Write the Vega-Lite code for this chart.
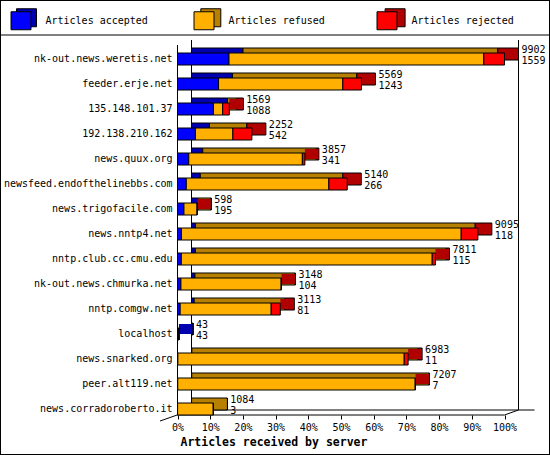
{
  "$schema": "https://vega.github.io/schema/vega-lite/v6.json",
  "width": 550,
  "height": 455,
  "padding": 0,
  "autosize": "none",
  "background": "white",
  "config": {
    "view": {"stroke": "black", "strokeWidth": 2},
    "font": "DejaVu Sans Mono",
    "axis": {"labelFont": "DejaVu Sans Mono", "labelFontSize": 10, "labelColor": "black", "grid": false, "domain": false},
    "legend": {"labelFont": "DejaVu Sans Mono", "labelFontSize": 10, "labelColor": "black"}
  },
  "resolve": {"scale": {"color": "independent"}, "legend": {"color": "independent"}},
  "layer": [
    {
      "data": {"values": [{}]},
      "mark": {"type": "rule", "color": "black", "yOffset": -24},
      "encoding": {"y": {"datum": "nk-out.news.weretis.net", "type": "nominal"}}
    },
    {
      "data": {"values": [{}]},
      "mark": {"type": "rule", "color": "black", "yOffset": -14, "y2Offset": 6},
      "encoding": {
        "x": {"datum": 0, "type": "quantitative"},
        "y": {"datum": "nk-out.news.weretis.net", "type": "nominal"},
        "y2": {"datum": "news.corradoroberto.it"}
      }
    },
    {
      "data": {"values": [{}]},
      "mark": {"type": "rule", "color": "black", "xOffset": 14, "yOffset": -19, "y2Offset": 1},
      "encoding": {
        "x": {"datum": 0, "type": "quantitative"},
        "y": {"datum": "nk-out.news.weretis.net", "type": "nominal"},
        "y2": {"datum": "news.corradoroberto.it"}
      }
    },
    {
      "data": {"values": [{}]},
      "mark": {"type": "rule", "color": "black", "xOffset": 14, "yOffset": -19, "y2Offset": 1},
      "encoding": {
        "x": {"datum": 9902, "type": "quantitative"},
        "y": {"datum": "nk-out.news.weretis.net", "type": "nominal"},
        "y2": {"datum": "news.corradoroberto.it"}
      }
    },
    {
      "data": {"values": [{}]},
      "mark": {"type": "rule", "color": "black", "yOffset": 6},
      "encoding": {
        "x": {"datum": 0, "type": "quantitative"},
        "x2": {"datum": 9902},
        "y": {"datum": "news.corradoroberto.it", "type": "nominal"}
      }
    },
    {
      "data": {"values": [{}]},
      "mark": {"type": "rule", "color": "black", "yOffset": 1, "xOffset": 14, "x2Offset": 30},
      "encoding": {
        "x": {"datum": 0, "type": "quantitative"},
        "x2": {"datum": 9902},
        "y": {"datum": "news.corradoroberto.it", "type": "nominal"}
      }
    },
    {
      "data": {"values": [{}]},
      "mark": {"type": "rule", "color": "black", "yOffset": 6, "y2Offset": 1, "x2Offset": 14},
      "encoding": {
        "x": {"datum": 9902, "type": "quantitative"},
        "x2": {"datum": 9902},
        "y": {"datum": "news.corradoroberto.it", "type": "nominal"},
        "y2": {"datum": "news.corradoroberto.it"}
      }
    },
    {
      "data": {"values": [{}]},
      "mark": {"type": "rule", "color": "black", "xOffset": 14, "yOffset": 1, "x2Offset": -17.5, "y2Offset": 12},
      "encoding": {
        "x": {"datum": 0, "type": "quantitative"},
        "x2": {"datum": 0},
        "y": {"datum": "news.corradoroberto.it", "type": "nominal"},
        "y2": {"datum": "news.corradoroberto.it"}
      }
    },
    {
      "data": {
        "values": [
          {"server": "nk-out.news.weretis.net", "total": 9902, "accepted": 1559, "refused": 7717, "rejected": 626},
          {"server": "feeder.erje.net", "total": 5569, "accepted": 1243, "refused": 3763, "rejected": 563},
          {"server": "135.148.101.37", "total": 1569, "accepted": 1088, "refused": 280, "rejected": 201},
          {"server": "192.138.210.162", "total": 2252, "accepted": 542, "refused": 1134, "rejected": 576},
          {"server": "news.quux.org", "total": 3857, "accepted": 341, "refused": 3440, "rejected": 76},
          {"server": "newsfeed.endofthelinebbs.com", "total": 5140, "accepted": 266, "refused": 4317, "rejected": 557},
          {"server": "news.trigofacile.com", "total": 598, "accepted": 195, "refused": 398, "rejected": 5},
          {"server": "news.nntp4.net", "total": 9095, "accepted": 118, "refused": 8473, "rejected": 504},
          {"server": "nntp.club.cc.cmu.edu", "total": 7811, "accepted": 115, "refused": 7598, "rejected": 98},
          {"server": "nk-out.news.chmurka.net", "total": 3148, "accepted": 104, "refused": 3034, "rejected": 10},
          {"server": "nntp.comgw.net", "total": 3113, "accepted": 81, "refused": 2756, "rejected": 276},
          {"server": "localhost", "total": 43, "accepted": 43, "refused": 0, "rejected": 0},
          {"server": "news.snarked.org", "total": 6983, "accepted": 11, "refused": 6854, "rejected": 118},
          {"server": "peer.alt119.net", "total": 7207, "accepted": 7, "refused": 7190, "rejected": 10},
          {"server": "news.corradoroberto.it", "total": 1084, "accepted": 3, "refused": 1081, "rejected": 0}
        ]
      },
      "transform": [{"fold": ["accepted", "refused", "rejected"], "as": ["type", "count"]}],
      "resolve": {"scale": {"color": "independent"}, "legend": {"color": "independent"}},
      "encoding": {
        "y": {
          "field": "server",
          "type": "nominal",
          "sort": ["nk-out.news.weretis.net", "feeder.erje.net", "135.148.101.37", "192.138.210.162", "news.quux.org", "newsfeed.endofthelinebbs.com", "news.trigofacile.com", "news.nntp4.net", "nntp.club.cc.cmu.edu", "nk-out.news.chmurka.net", "nntp.comgw.net", "localhost", "news.snarked.org", "peer.alt119.net", "news.corradoroberto.it"],
          "scale": {"range": [46.5, 421.5], "paddingInner": 0.52, "paddingOuter": 0.26},
          "axis": {"title": null, "orient": "left", "offset": -177, "ticks": false, "tickSize": 0, "labelPadding": 5}
        }
      },
      "layer": [
        {
          "mark": {"type": "bar", "stroke": "black", "strokeWidth": 1, "xOffset": 14, "x2Offset": 14, "yOffset": -5, "y2Offset": -5},
          "encoding": {
            "x": {"field": "count", "type": "quantitative", "stack": "zero"},
            "order": {"field": "type"},
            "color": {
              "field": "type",
              "type": "nominal",
              "scale": {"domain": ["accepted", "refused", "rejected"], "range": ["#0000B0", "#B88000", "#B00000"]},
              "legend": {
                "title": null, "orient": "none", "legendX": 10.5, "legendY": 10, "direction": "horizontal", "columns": 3,
                "padding": 0, "symbolType": "M -0.45 -1.2 L 1.55 -1.2 L 1.55 0.6 L -0.45 0.6 Z", "symbolSize": 400,
                "symbolStrokeColor": "black", "symbolStrokeWidth": 1, "symbolOpacity": 1, "labelOffset": 14,
                "columnPadding": 149.3, "gridAlign": "all", "labelExpr": "''"
              }
            }
          }
        },
        {
          "transform": [
            {"filter": "datum.count > 0"},
            {"window": [{"op": "row_number", "as": "rk"}], "groupby": ["server"], "sort": [{"field": "type", "order": "descending"}]},
            {"filter": "datum.rk == 1"}
          ],
          "mark": {"type": "bar", "height": 10, "yOffset": -5, "x2Offset": 13.5},
          "encoding": {
            "x": {"field": "total", "type": "quantitative"},
            "x2": {"field": "total"},
            "color": {
              "field": "type",
              "type": "nominal",
              "scale": {"domain": ["accepted", "refused", "rejected"], "range": ["#0000B0", "#B88000", "#B00000"]},
              "legend": null
            }
          }
        },
        {
          "mark": {"type": "bar", "stroke": "black", "strokeWidth": 1},
          "encoding": {
            "x": {
              "field": "count",
              "type": "quantitative",
              "stack": "zero",
              "scale": {"domain": [-5374.9, 11279.7], "nice": false, "zero": false},
              "axis": {
                "orient": "bottom", "offset": -40, "values": [0, 990.2, 1980.4, 2970.6, 3960.8, 4951, 5941.2, 6931.4, 7921.6, 8911.8, 9902],
                "labelExpr": "round(datum.value / 99.02) + '%'", "tickSize": 4, "tickColor": "black", "labelPadding": 3,
                "labelFlush": false, "labelOverlap": false,
                "title": "Articles received by server", "titleX": 180, "titleY": 27, "titleAlign": "left", "titleBaseline": "middle",
                "titleFont": "DejaVu Sans Mono", "titleFontWeight": "bold", "titleFontSize": 11.5, "titleColor": "black"
              }
            },
            "order": {"field": "type"},
            "color": {
              "field": "type",
              "type": "nominal",
              "scale": {"domain": ["accepted", "refused", "rejected"], "range": ["#0000FF", "#FFB000", "#FF0000"]},
              "legend": {
                "title": null, "orient": "none", "legendX": 10.5, "legendY": 10, "direction": "horizontal", "columns": 3,
                "padding": 0, "symbolType": "M -1 -0.9 L 1 -0.9 L 1 0.9 L -1 0.9 Z", "symbolSize": 400,
                "symbolStrokeColor": "black", "symbolStrokeWidth": 1, "symbolOpacity": 1, "labelOffset": 14,
                "columnPadding": 43, "gridAlign": "all", "labelExpr": "'Articles ' + datum.label"
              }
            }
          }
        },
        {
          "transform": [{"filter": "datum.type == 'accepted'"}],
          "mark": {"type": "text", "align": "left", "baseline": "middle", "dx": 17, "dy": -9, "font": "DejaVu Sans Mono", "fontSize": 10, "color": "black"},
          "encoding": {
            "x": {"field": "total", "type": "quantitative"},
            "text": {"field": "total", "type": "quantitative"}
          }
        },
        {
          "transform": [{"filter": "datum.type == 'accepted'"}],
          "mark": {"type": "text", "align": "left", "baseline": "middle", "dx": 17, "dy": 2, "font": "DejaVu Sans Mono", "fontSize": 10, "color": "black"},
          "encoding": {
            "x": {"field": "total", "type": "quantitative"},
            "text": {"field": "accepted", "type": "quantitative"}
          }
        }
      ]
    }
  ]
}
